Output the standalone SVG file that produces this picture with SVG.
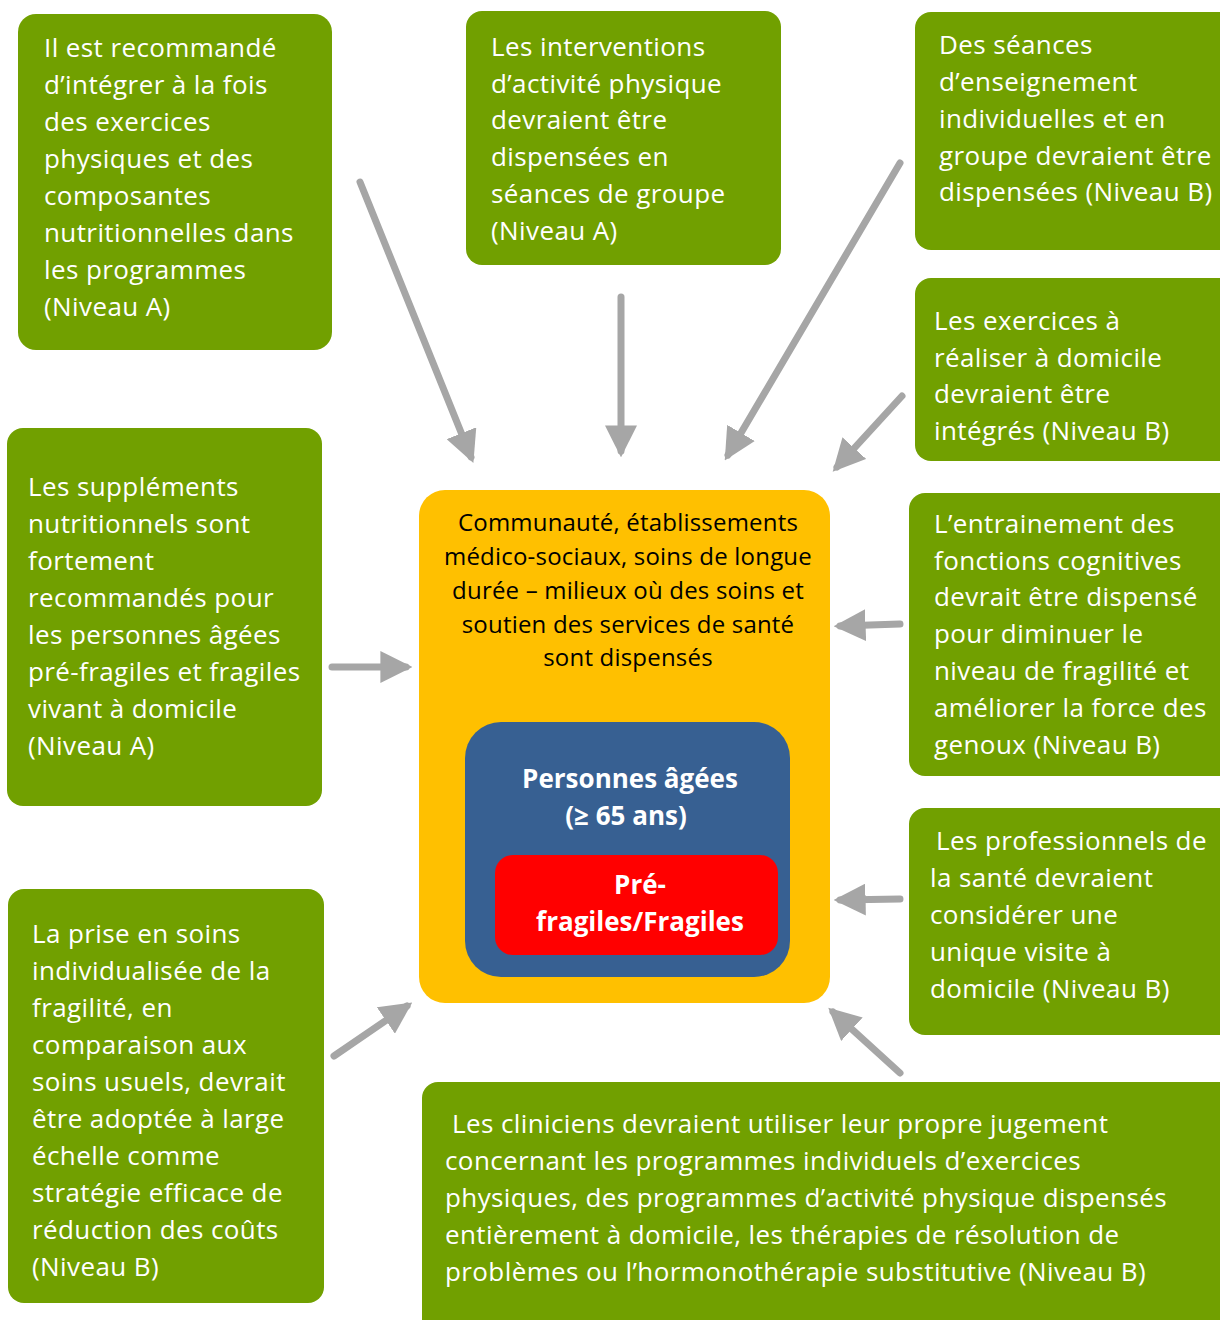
<svg xmlns="http://www.w3.org/2000/svg" width="1220" height="1320" viewBox="0 0 1220 1320">
<style>
.g{fill:#71A000}
.t{font-family:"Open Sans","DejaVu Sans",sans-serif;font-size:26px;letter-spacing:0.4px;fill:#ffffff}
.c{font-family:"Open Sans","DejaVu Sans",sans-serif;font-size:24px;letter-spacing:0.2px;fill:#000000;text-anchor:middle}
.b{font-family:"Open Sans","DejaVu Sans",sans-serif;font-size:26px;font-weight:bold;fill:#ffffff;text-anchor:middle}
.a{stroke:#A6A6A6;stroke-width:7;stroke-linecap:round;fill:none;marker-end:url(#ah)}
</style>
<defs>
<marker id="ah" markerUnits="userSpaceOnUse" markerWidth="32" markerHeight="32" viewBox="0 0 30 30" refX="24" refY="15" orient="auto">
<path d="M0,0 L30,15 L0,30 z" fill="#A6A6A6"/>
</marker>
</defs>
<rect width="1220" height="1320" fill="#ffffff"/>

<g id="n1"><rect class="g" x="18" y="14" width="314" height="336" rx="18"/>
<text class="t" x="44"><tspan x="44" y="57">Il est recommandé</tspan><tspan x="44" y="94">d’intégrer à la fois</tspan><tspan x="44" y="131">des exercices</tspan><tspan x="44" y="168">physiques et des</tspan><tspan x="44" y="205">composantes</tspan><tspan x="44" y="242">nutritionnelles dans</tspan><tspan x="44" y="279">les programmes</tspan><tspan x="44" y="316">(Niveau A)</tspan></text></g>

<g id="n2"><rect class="g" x="466" y="11" width="315" height="254" rx="16"/>
<text class="t"><tspan x="491" y="56">Les interventions</tspan><tspan x="491" y="93">d’activité physique</tspan><tspan x="491" y="129">devraient être</tspan><tspan x="491" y="166">dispensées en</tspan><tspan x="491" y="203">séances de groupe</tspan><tspan x="491" y="240">(Niveau A)</tspan></text></g>

<g id="n3"><rect class="g" x="915" y="12" width="320" height="238" rx="16"/>
<text class="t"><tspan x="939" y="54">Des séances</tspan><tspan x="939" y="91">d’enseignement</tspan><tspan x="939" y="128">individuelles et en</tspan><tspan x="939" y="165">groupe devraient être</tspan><tspan x="939" y="201">dispensées (Niveau B)</tspan></text></g>

<g id="n4"><rect class="g" x="915" y="278" width="320" height="183" rx="16"/>
<text class="t"><tspan x="934" y="330">Les exercices à</tspan><tspan x="934" y="367">réaliser à domicile</tspan><tspan x="934" y="403">devraient être</tspan><tspan x="934" y="440">intégrés (Niveau B)</tspan></text></g>

<g id="n5"><rect class="g" x="909" y="493" width="326" height="283" rx="16"/>
<text class="t"><tspan x="934" y="533">L’entrainement des</tspan><tspan x="934" y="570">fonctions cognitives</tspan><tspan x="934" y="606">devrait être dispensé</tspan><tspan x="934" y="643">pour diminuer le</tspan><tspan x="934" y="680">niveau de fragilité et</tspan><tspan x="934" y="717">améliorer la force des</tspan><tspan x="934" y="754">genoux (Niveau B)</tspan></text></g>

<g id="n6"><rect class="g" x="909" y="808" width="326" height="227" rx="16"/>
<text class="t"><tspan x="936" y="850">Les professionnels de</tspan><tspan x="930" y="887">la santé devraient</tspan><tspan x="930" y="924">considérer une</tspan><tspan x="930" y="961">unique visite à</tspan><tspan x="930" y="998">domicile (Niveau B)</tspan></text></g>

<g id="n7"><rect class="g" x="422" y="1082" width="815" height="260" rx="16"/>
<text class="t"><tspan x="452" y="1133">Les cliniciens devraient utiliser leur propre jugement</tspan><tspan x="445" y="1170">concernant les programmes individuels d’exercices</tspan><tspan x="445" y="1207">physiques, des programmes d’activité physique dispensés</tspan><tspan x="445" y="1244">entièrement à domicile, les thérapies de résolution de</tspan><tspan x="445" y="1281">problèmes ou l’hormonothérapie substitutive (Niveau B)</tspan></text></g>

<g id="n8"><rect class="g" x="7" y="428" width="315" height="378" rx="16"/>
<text class="t"><tspan x="28" y="496">Les suppléments</tspan><tspan x="28" y="533">nutritionnels sont</tspan><tspan x="28" y="570">fortement</tspan><tspan x="28" y="607">recommandés pour</tspan><tspan x="28" y="644">les personnes âgées</tspan><tspan x="28" y="681">pré-fragiles et fragiles</tspan><tspan x="28" y="718">vivant à domicile</tspan><tspan x="28" y="755">(Niveau A)</tspan></text></g>

<g id="n9"><rect class="g" x="8" y="889" width="316" height="414" rx="16"/>
<text class="t"><tspan x="32" y="943">La prise en soins</tspan><tspan x="32" y="980">individualisée de la</tspan><tspan x="32" y="1017">fragilité, en</tspan><tspan x="32" y="1054">comparaison aux</tspan><tspan x="32" y="1091">soins usuels, devrait</tspan><tspan x="32" y="1128">être adoptée à large</tspan><tspan x="32" y="1165">échelle comme</tspan><tspan x="32" y="1202">stratégie efficace de</tspan><tspan x="32" y="1239">réduction des coûts</tspan><tspan x="32" y="1276">(Niveau B)</tspan></text></g>

<g id="center">
<rect x="419" y="490" width="411" height="513" rx="26" fill="#FFC000"/>
<text class="c"><tspan x="628" y="531">Communauté, établissements</tspan><tspan x="628" y="565">médico-sociaux, soins de longue</tspan><tspan x="628" y="599">durée – milieux où des soins et</tspan><tspan x="628" y="633">soutien des services de santé</tspan><tspan x="628" y="666">sont dispensés</tspan></text>
<g id="seniors">
<rect x="465" y="722" width="325" height="255" rx="36" fill="#376092"/>
<text class="b"><tspan x="630" y="788">Personnes âgées</tspan><tspan x="626" y="825">(≥ 65 ans)</tspan></text>
</g>
<g id="frail">
<rect x="495" y="855" width="283" height="100" rx="18" fill="#FF0000"/>
<text class="b"><tspan x="640" y="894">Pré-</tspan><tspan x="640" y="931">fragiles/Fragiles</tspan></text>
</g>
</g>

<g id="connectors">
<line class="a" x1="360" y1="182" x2="471" y2="457"/>
<line class="a" x1="621" y1="297" x2="621" y2="451"/>
<line class="a" x1="900" y1="163" x2="728" y2="455"/>
<line class="a" x1="902" y1="396" x2="837" y2="467"/>
<line class="a" x1="332" y1="667" x2="406" y2="667"/>
<line class="a" x1="900" y1="624" x2="840" y2="626"/>
<line class="a" x1="900" y1="899" x2="840" y2="900"/>
<line class="a" x1="334" y1="1056" x2="407" y2="1006"/>
<line class="a" x1="900" y1="1073" x2="833" y2="1012"/>
</g>
</svg>
